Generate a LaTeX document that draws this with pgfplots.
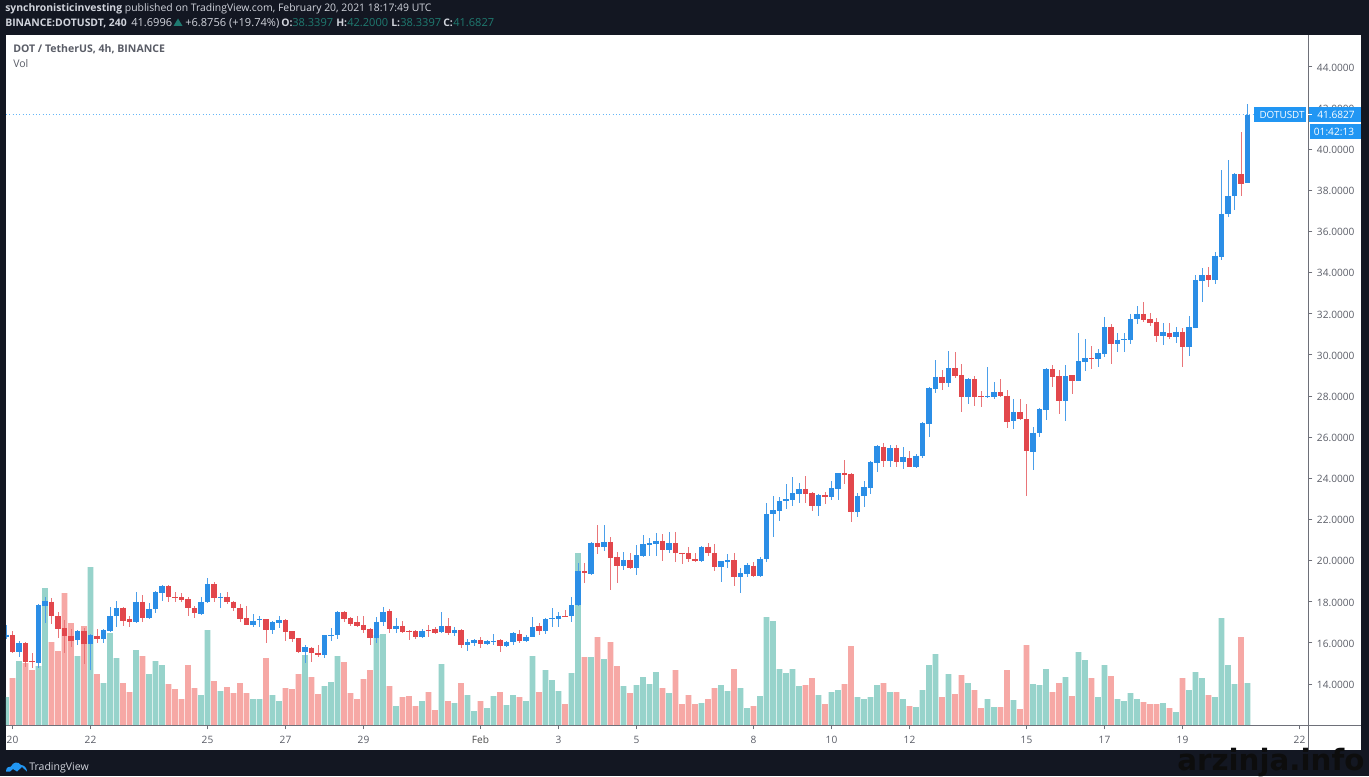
\documentclass[border=0pt]{standalone}
\usepackage{pgfplots}
\usepackage{pgfplotstable}
\usepackage{fontspec}
\pgfplotsset{compat=1.18}
\setmainfont{Open Sans}
\newfontfamily\wm{DejaVu Sans}
\definecolor{bg}{HTML}{131722}
\definecolor{upc}{HTML}{2B8EE6}
\definecolor{dnc}{HTML}{E2474C}
\definecolor{upv}{HTML}{97D3CB}
\definecolor{dnv}{HTML}{F6A8A5}
\definecolor{tagb}{HTML}{2196F3}
\definecolor{axc}{HTML}{6E7079}
\definecolor{txt}{HTML}{5A5D67}
\definecolor{hdr}{HTML}{D1D4DC}
\definecolor{teal}{HTML}{1F7A70}
% i open high low close volume
\pgfplotstableread{
i o h l c v
0 16.30 16.85 16.20 16.40 28
2 15.57 16.09 15.30 15.98 64
5 15.00 17.87 14.76 17.84 59
6 17.81 18.24 16.95 18.03 137
11 16.12 16.62 15.90 16.58 69
13 15.94 16.41 14.68 16.36 158
15 16.19 16.66 16.00 16.61 42
16 16.59 17.73 16.54 17.30 92
17 17.30 18.03 16.79 17.69 67
20 17.03 18.49 16.95 17.99 75
22 17.19 17.95 17.14 17.65 51
23 17.63 18.52 17.47 18.47 64
24 18.44 18.80 18.03 18.76 60
30 17.42 18.21 17.35 17.99 30
31 17.97 19.14 17.92 18.84 95
33 18.21 18.41 17.71 18.24 34
38 16.87 17.40 16.79 17.08 26
39 17.09 17.30 16.79 17.16 26
41 16.62 17.06 16.41 17.00 30
42 16.98 17.30 16.70 17.11 24
46 15.57 15.89 15.04 15.78 70
49 15.41 16.40 15.25 16.36 39
50 16.33 16.71 16.10 16.40 43
51 16.38 17.53 16.17 17.50 69
57 16.24 17.24 15.98 17.03 90
58 17.01 17.76 16.82 17.48 91
60 16.66 17.19 16.46 16.82 19
64 16.27 16.65 16.22 16.60 24
67 16.53 17.50 16.46 16.80 61
69 16.50 16.75 16.33 16.62 22
71 15.91 16.20 15.62 16.02 30
72 15.98 16.17 15.85 16.12 14
74 15.94 16.14 15.90 16.07 17
75 16.04 16.43 15.90 16.10 29
77 15.85 16.09 15.78 16.06 20
78 16.04 16.51 15.90 16.46 30
80 16.07 16.38 16.04 16.30 24
81 16.30 17.24 16.27 16.77 69
83 16.59 17.19 16.43 17.16 55
84 17.14 17.68 16.78 17.20 45
85 17.17 17.50 16.78 17.32 34
87 17.30 18.24 17.03 17.82 52
88 17.82 19.87 17.79 19.51 172
90 19.35 20.92 19.28 20.87 68
92 20.66 21.73 20.45 20.90 66
95 19.74 20.40 19.54 20.04 39
97 19.64 20.76 19.30 20.25 40
98 20.22 21.24 20.16 20.80 48
99 20.77 21.10 20.22 20.85 41
100 20.82 21.32 20.22 20.97 53
102 20.50 21.37 20.38 20.85 32
107 19.98 20.71 19.95 20.68 22
110 19.69 20.00 18.97 19.96 40
111 19.94 20.30 19.65 20.01 34
113 19.18 19.62 18.44 19.38 37
114 19.35 19.90 19.18 19.77 17
116 19.25 20.19 19.22 20.09 29
117 20.06 22.78 19.95 22.26 108
118 22.25 23.14 21.13 22.44 104
119 22.43 23.11 21.92 22.90 56
120 22.88 23.72 22.49 22.98 52
121 22.94 24.05 22.65 23.28 56
122 23.25 23.79 22.78 23.46 39
125 22.65 23.22 22.18 23.19 30
127 23.07 23.88 22.94 23.53 33
128 23.50 24.27 22.94 24.24 35
131 22.38 23.27 22.10 23.16 28
132 23.14 23.88 22.59 23.56 26
133 23.54 24.82 23.22 24.79 28
134 24.76 25.63 24.32 25.57 40
136 24.86 25.62 24.56 25.47 33
138 24.81 25.54 24.45 25.02 26
140 24.57 25.18 24.48 25.10 18
141 25.10 26.72 25.00 26.70 35
142 26.64 28.42 26.02 28.40 60
143 28.36 29.75 28.13 28.94 71
145 28.62 30.20 28.42 29.35 51
148 27.95 28.86 27.61 28.83 42
151 27.95 29.43 27.92 28.00 26
152 27.94 28.70 27.87 28.18 18
155 26.77 27.85 26.40 27.22 25
158 25.29 26.48 24.40 26.22 41
159 26.18 27.40 26.02 27.35 40
160 27.32 29.35 26.83 29.31 56
163 27.77 29.50 26.80 28.97 48
165 28.75 31.05 28.75 29.69 73
166 29.65 30.76 29.22 29.83 65
168 29.80 30.27 29.40 30.07 28
169 30.04 31.82 29.88 31.34 60
171 30.55 31.05 30.16 30.74 26
172 30.71 31.05 30.16 30.76 24
173 30.72 31.99 30.53 31.74 32
174 31.74 32.39 31.50 31.99 26
178 30.93 31.57 30.48 31.10 22
180 30.88 31.34 30.60 31.13 13
182 30.40 31.89 29.95 31.34 35
183 31.33 33.86 31.30 33.65 53
184 33.61 34.21 32.55 33.86 47
186 33.65 34.99 33.45 34.83 28
187 34.78 39.00 34.62 36.87 107
188 36.84 39.48 36.68 37.73 60
189 37.70 38.83 37.05 38.80 41
191 38.34 42.20 38.34 41.68 42
}\upd
\pgfplotstableread{
i o h l c v
1 16.38 16.59 15.49 15.54 47
3 15.98 16.02 14.81 15.08 62
4 15.10 15.52 14.76 15.05 55
7 18.00 18.16 16.92 17.30 83
8 17.30 17.48 16.25 16.67 74
9 16.70 17.11 15.52 16.33 132
10 16.35 16.67 15.78 16.10 102
12 16.58 16.70 14.95 15.94 99
14 16.35 16.66 16.00 16.19 51
18 17.71 17.76 16.82 17.08 42
19 17.16 17.30 16.79 17.03 33
21 17.99 18.33 17.01 17.19 69
25 18.76 18.80 18.00 18.21 41
26 18.24 18.49 17.97 18.20 36
27 18.21 18.41 18.00 18.10 26
28 18.13 18.24 17.30 17.68 60
29 17.69 17.80 17.19 17.43 37
32 18.84 18.97 18.00 18.16 44
34 18.24 18.46 17.89 17.97 38
35 18.00 18.05 17.56 17.68 32
36 17.69 17.89 17.03 17.16 42
37 17.19 17.79 16.85 16.88 32
40 17.16 17.18 15.98 16.62 67
43 17.11 17.14 16.09 16.54 37
44 16.56 16.56 16.06 16.20 36
45 16.22 16.22 15.52 15.57 51
47 15.77 15.81 15.08 15.49 48
48 15.52 15.89 15.33 15.41 31
52 17.50 17.53 17.00 17.18 63
53 17.19 17.27 16.83 16.93 32
54 17.00 17.30 16.79 16.82 26
55 16.87 17.30 16.46 16.63 46
56 16.66 16.71 15.90 16.24 55
59 17.53 17.63 16.46 16.66 39
61 16.82 17.06 16.50 16.54 28
62 16.60 16.62 16.14 16.56 29
63 16.57 16.62 16.17 16.27 19
65 16.62 16.87 16.27 16.59 33
66 16.66 16.79 16.41 16.46 15
68 16.80 17.19 16.38 16.50 24
70 16.62 16.65 15.73 15.90 42
73 16.12 16.30 15.76 15.94 24
76 16.12 16.17 15.57 15.85 33
79 16.43 16.62 15.98 16.07 28
82 16.80 16.98 16.38 16.59 33
86 17.33 17.59 17.24 17.29 21
89 19.48 19.87 18.93 19.38 68
91 20.85 21.73 20.30 20.68 88
93 20.90 21.13 18.57 20.14 83
94 20.17 20.40 18.93 19.75 59
96 20.04 20.38 19.57 19.62 32
101 20.97 21.28 20.00 20.51 37
103 20.85 21.40 19.91 20.35 55
104 20.38 20.38 19.82 20.32 21
105 20.35 20.68 19.91 20.06 30
106 20.08 20.35 19.91 19.98 21
108 20.68 20.87 20.22 20.35 26
109 20.38 20.80 19.49 19.69 37
112 20.01 20.38 18.78 19.18 56
115 19.75 19.95 19.18 19.25 19
123 23.48 24.11 22.78 23.25 40
124 23.28 23.35 22.43 22.65 47
126 23.19 23.32 22.75 23.11 21
129 24.26 24.89 23.72 24.18 41
130 24.21 24.24 21.86 22.38 79
135 25.54 25.70 24.53 24.86 42
137 25.47 25.62 24.53 24.79 33
139 24.99 25.34 24.53 24.57 19
144 28.94 29.26 28.29 28.62 28
146 29.35 30.14 28.90 28.97 31
147 29.02 29.56 27.20 27.94 50
149 28.83 28.97 27.51 27.94 35
150 27.99 28.24 27.48 27.94 17
153 28.20 28.83 27.97 28.00 18
154 28.02 28.29 26.46 26.75 55
156 27.22 27.85 26.83 26.87 16
157 26.87 27.60 23.14 25.33 80
161 29.30 29.50 28.45 28.91 33
162 28.97 29.26 27.12 27.77 42
164 29.00 29.04 28.08 28.73 29
167 29.85 30.45 29.30 29.80 47
170 31.34 31.50 29.56 30.53 49
175 31.99 32.59 31.60 31.70 23
176 31.74 32.05 31.40 31.57 21
177 31.58 31.78 30.64 30.92 21
179 31.08 31.53 30.77 30.88 17
181 31.13 31.29 29.43 30.40 47
185 33.86 34.25 33.32 33.65 30
190 38.80 40.83 37.70 38.31 88
}\dnd
\begin{document}
\begin{tikzpicture}[x=0.75pt,y=0.75pt]
\useasboundingbox (0,0) rectangle (1369,776);
\fill[bg] (0,0) rectangle (1369,776);
\fill[white] (6,26) rectangle (1361,741);
% volume
\begin{axis}[at={(4.5pt,38.25pt)},anchor=south west,width=976.5pt,height=517.5pt,scale only axis,
  xmin=0,xmax=200.31,ymin=0,ymax=690,hide axis,clip=true]
\addplot[ybar,bar shift=0pt,bar width=4.3pt,fill=upv,draw=none,forget plot] table[x=i,y=v]{\upd};
\addplot[ybar,bar shift=0pt,bar width=4.3pt,fill=dnv,draw=none,forget plot] table[x=i,y=v]{\dnd};
\end{axis}
% price
\begin{axis}[at={(4.5pt,38.25pt)},anchor=south west,width=976.5pt,height=517.5pt,scale only axis,
  xmin=0,xmax=200.31,ymin=12.007,ymax=45.55,
  axis y line*=right,axis x line*=bottom,
  axis line style={-,color=axc,line width=0.7pt},
  tick style={color=axc,line width=0.6pt},
  tick align=outside,major tick length=3.2pt,
  ytick={14,16,...,44},
  xtick={1,13,31,43,55,73,85,97,115,127,139,157,169,181,199},
  xticklabels={20,22,25,27,29,\textcolor{black!70}{Feb},3,5,8,10,12,15,17,19,22},
  tick label style={font=\fontsize{7.6pt}{9pt}\selectfont,text=txt},
  yticklabel style={yshift=-0.6pt,/pgf/number format/.cd,fixed,fixed zerofill,precision=4,assume math mode=true},
  xticklabel style={yshift=-1.5pt},
  clip=true]
\addplot[draw=none,no markers,forget plot,error bars/.cd,y dir=both,y explicit,error mark=none,
  error bar style={draw=upc!85,line width=0.7pt}]
  table[x=i,y=c,y error plus expr=\thisrow{h}-\thisrow{c},y error minus expr=\thisrow{c}-\thisrow{l}]{\upd};
\addplot[draw=none,no markers,forget plot,error bars/.cd,y dir=both,y explicit,error mark=none,
  error bar style={draw=dnc!75,line width=0.7pt}]
  table[x=i,y=o,y error plus expr=\thisrow{h}-\thisrow{o},y error minus expr=\thisrow{o}-\thisrow{l}]{\dnd};
\addplot[draw=none,no markers,forget plot,error bars/.cd,y dir=both,y explicit,error mark=none,
  error bar style={draw=upc,line width=3.8pt}]
  table[x=i,y=c,y error plus expr=0,y error minus expr=\thisrow{c}-\thisrow{o}]{\upd};
\addplot[draw=none,no markers,forget plot,error bars/.cd,y dir=both,y explicit,error mark=none,
  error bar style={draw=dnc,line width=3.8pt}]
  table[x=i,y=o,y error plus expr=0,y error minus expr=\thisrow{o}-\thisrow{c}]{\dnd};
\addplot[tagb!70,dotted,line width=0.5pt,forget plot] coordinates {(0,41.68) (200.31,41.68)};
\end{axis}
% axis extensions
\draw[axc,line width=0.7pt] (1308,26) -- (1308,741);
\draw[axc,line width=0.7pt] (6,51) -- (1361,51);
% price tags
\fill[tagb] (1254,654) rectangle (1306,669);
\fill[tagb] (1309,654) rectangle (1361,669);
\fill[tagb] (1310,637) rectangle (1361,652);
\draw[white,line width=0.6pt] (1306,661.5) -- (1312,661.5);
\node[anchor=center,inner sep=0,text=white,font=\fontsize{7.4pt}{9pt}\selectfont] at (1282,661) {DOTUSDT};
\node[anchor=center,inner sep=0,text=white,font=\fontsize{7.6pt}{9pt}\selectfont] at (1336,661) {41.6827};
\node[anchor=center,inner sep=0,text=white,font=\fontsize{7.6pt}{9pt}\selectfont] at (1334,644) {01:42:13};
% header
\tikzset{h1/.style={anchor=base west,inner sep=0,text=hdr,font=\fontsize{7.8pt}{9pt}\selectfont},
         h2/.style={anchor=base west,inner sep=0,text=hdr,font=\fontsize{8.3pt}{9pt}\selectfont},
         h3/.style={anchor=base west,inner sep=0,text=teal,font=\fontsize{8.3pt}{9pt}\selectfont}}
\node[h1] at (5,764.5) {\textbf{synchronisticinvesting} published on TradingView.com, February 20, 2021 18:17:49 UTC};
\node[h1] at (5,749.5) {\textbf{BINANCE:DOTUSDT, 240}};
\node[h2] at (131,749.5) {41.6996};
\fill[teal] (173.5,750) -- (182.5,750) -- (178,757.5) -- cycle;
\node[h2] at (185,749.5) {+6.8756 (+19.74\%)};
\node[h1] at (281,749.5) {\textbf{O:}};
\node[h3] at (292,749.5) {38.3397};
\node[h1] at (336,749.5) {\textbf{H:}};
\node[h3] at (347,749.5) {42.2000};
\node[h1] at (391,749.5) {\textbf{L:}};
\node[h3] at (400,749.5) {38.3397};
\node[h1] at (443,749.5) {\textbf{C:}};
\node[h3] at (453,749.5) {41.6827};
\node[anchor=base west,inner sep=0,text=txt,font=\fontsize{7.9pt}{9pt}\selectfont] at (13,723) {\textbf{DOT / TetherUS, 4h, BINANCE}};
\node[anchor=base west,inner sep=0,text=txt,font=\fontsize{7.9pt}{9pt}\selectfont] at (13,708.5) {Vol};
% footer
\fill[tagb] (6,4.5) .. controls (6,9) and (9,9.5) .. (11,9.5) .. controls (13,14) and (18,15) .. (21,11) .. controls (24,11) and (27,8) .. (27,4.5) -- (22,9) -- (17,4.5) -- (13,7) -- (10,4.5) -- cycle;
\node[anchor=base west,inner sep=0,text=hdr,font=\fontsize{7.9pt}{9pt}\selectfont] at (29,6) {TradingView};
% watermark
\node[anchor=base west,inner sep=0,text=black!95,font=\wm\bfseries\fontsize{22pt}{26pt}\selectfont] at (1177,6) {arzinja.info};
\end{tikzpicture}
\end{document}
